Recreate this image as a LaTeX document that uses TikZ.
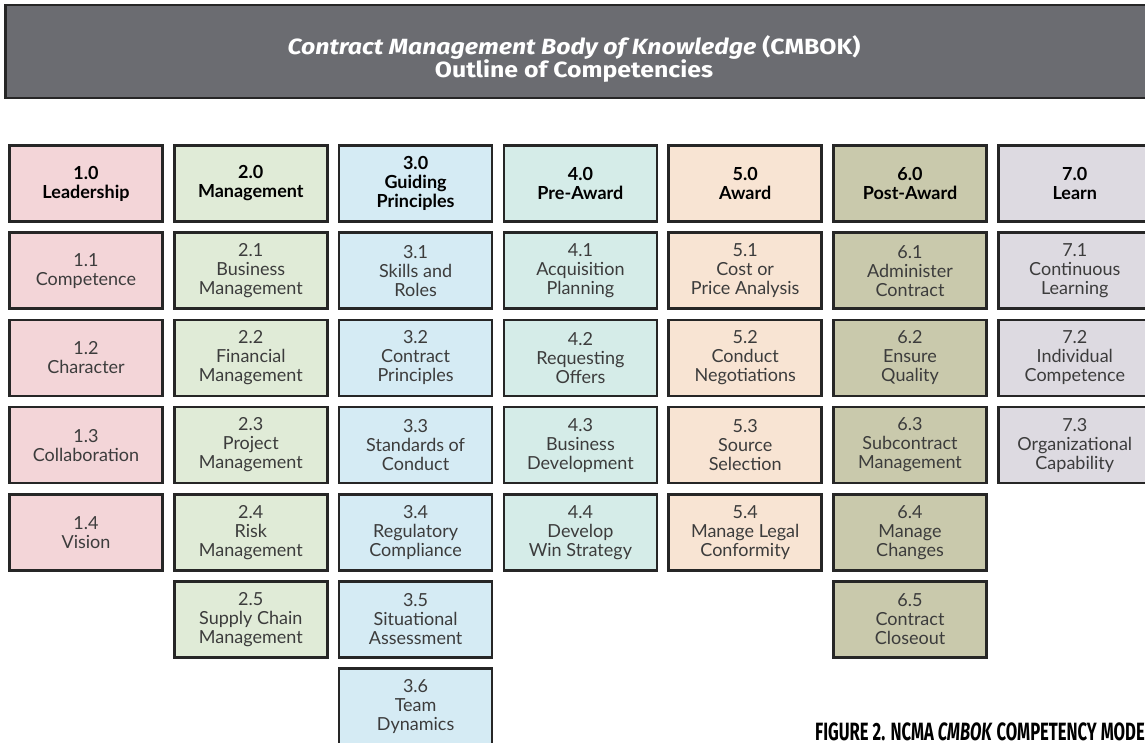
\documentclass[tikz,border=0pt]{standalone}
\usepackage{fontspec}
\setmainfont{Lato}
\newfontfamily\titlefont{Fira Sans}
\newfontfamily\capfont{Fira Sans}
\definecolor{pinkf}{HTML}{F3D5D8}
\definecolor{greenf}{HTML}{E0EBD7}
\definecolor{bluef}{HTML}{D5EBF4}
\definecolor{tealf}{HTML}{D5ECE8}
\definecolor{peachf}{HTML}{F8E4D3}
\definecolor{olivef}{HTML}{C9C9AC}
\definecolor{lavf}{HTML}{DDDAE1}
\definecolor{titlegray}{HTML}{6B6C71}
\definecolor{boxline}{HTML}{262626}
\definecolor{bodytext}{HTML}{3C3C3C}
\newcommand{\wideline}[1]{\scalebox{1.13}[1]{#1}}
\begin{document}
\begin{tikzpicture}[x=1pt,y=-1pt,
  box/.style={draw=boxline, line width=2.6pt, minimum width=153pt, minimum height=76pt,
    inner sep=0pt, align=center, font=\fontsize{18}{19}\selectfont, text=bodytext},
  headbox/.style={box, font=\fontsize{18}{19}\selectfont\bfseries, text=black},
  titlebar/.style={draw=boxline, line width=2.6pt, fill=titlegray, minimum width=1153pt,
    minimum height=93pt, inner sep=0pt},
  titletext/.style={text=white, align=center, font=\titlefont\bfseries\fontsize{22}{22}\selectfont},
  captext/.style={anchor=base west, inner sep=0pt, text=black, font=\capfont\bfseries\fontsize{25}{26}\selectfont}]
\useasboundingbox (0,0) rectangle (1145,742);
\clip (0,0) rectangle (1145,742);
\fill[white] (0,0) rectangle (1145,742);
\node[titlebar] (bar) at (582,51.5) {};
\node[titletext] (title) at (574,59) {\wideline{\textit{Contract Management Body of Knowledge} (CMBOK)}\\\wideline{Outline of Competencies}};
% headers
\foreach \c/\t/\f in {1/{1.0\\Leadership}/pinkf, 2/{2.0\\Management}/greenf,
  3/{3.0\\Guiding\\Principles}/bluef, 4/{4.0\\Pre-Award}/tealf, 5/{5.0\\Award}/peachf,
  6/{6.0\\Post-Award}/olivef, 7/{7.0\\Learn}/lavf}
  \node[headbox, fill=\f] (h\c) at ({86+164.8*(\c-1)},183.5) {\t};
% items
\foreach \c/\r/\t/\f in {
  1/1/{1.1\\Competence}/pinkf, 1/2/{1.2\\Character}/pinkf, 1/3/{1.3\\Collaboration}/pinkf, 1/4/{1.4\\Vision}/pinkf,
  2/1/{2.1\\Business\\Management}/greenf, 2/2/{2.2\\Financial\\Management}/greenf, 2/3/{2.3\\Project\\Management}/greenf,
  2/4/{2.4\\Risk\\Management}/greenf, 2/5/{2.5\\Supply Chain\\Management}/greenf,
  3/1/{3.1\\Skills and\\Roles}/bluef, 3/2/{3.2\\Contract\\Principles}/bluef, 3/3/{3.3\\Standards of\\Conduct}/bluef,
  3/4/{3.4\\Regulatory\\Compliance}/bluef, 3/5/{3.5\\Situational\\Assessment}/bluef, 3/6/{3.6\\Team\\Dynamics}/bluef,
  4/1/{4.1\\Acquisition\\Planning}/tealf, 4/2/{4.2\\Requesting\\Offers}/tealf, 4/3/{4.3\\Business\\Development}/tealf,
  4/4/{4.4\\Develop\\Win Strategy}/tealf,
  5/1/{5.1\\Cost or\\Price Analysis}/peachf, 5/2/{5.2\\Conduct\\Negotiations}/peachf, 5/3/{5.3\\Source\\Selection}/peachf,
  5/4/{5.4\\Manage Legal\\Conformity}/peachf,
  6/1/{6.1\\Administer\\Contract}/olivef, 6/2/{6.2\\Ensure\\Quality}/olivef, 6/3/{6.3\\Subcontract\\Management}/olivef,
  6/4/{6.4\\Manage\\Changes}/olivef, 6/5/{6.5\\Contract\\Closeout}/olivef,
  7/1/{7.1\\Continuous\\Learning}/lavf, 7/2/{7.2\\Individual\\Competence}/lavf, 7/3/{7.3\\Organizational\\Capability}/lavf}
  \node[box, fill=\f] (b\c\r) at ({86+164.8*(\c-1)},{183.5+87.2*\r}) {\t};
\node[captext] (cap) at (815,740) {\scalebox{0.665}[1]{FIGURE 2. NCMA \textit{CMBOK} COMPETENCY MODEL}};
\end{tikzpicture}
\end{document}
